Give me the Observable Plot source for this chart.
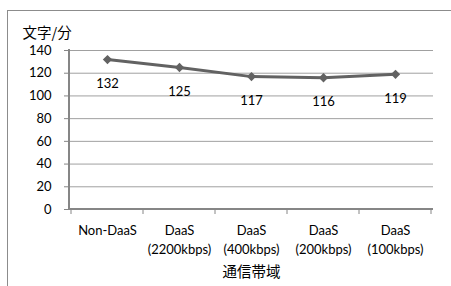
<!DOCTYPE html>
<html><head><meta charset="utf-8">
<script src="https://cdn.jsdelivr.net/npm/d3@7"></script>
<script src="https://cdn.jsdelivr.net/npm/@observablehq/plot@0.6"></script>
<style>
body{margin:0;background:#fff}
#wrap{position:relative;width:451px;height:286px;overflow:hidden;background:#fff}
#frame{position:absolute;left:7px;top:10px;width:600px;height:400px;border-top:1px solid #8c8c8c;border-left:1px solid #8c8c8c}
#chart{position:absolute;left:0;top:0}
</style>
</head><body>
<div id="wrap"><div id="frame"></div><div id="chart"></div></div>
<script>
const categories = ["Non-DaaS", "DaaS\n(2200kbps)", "DaaS\n(400kbps)", "DaaS\n(200kbps)", "DaaS\n(100kbps)"];
const values = [132, 125, 117, 116, 119];
const yTicks = [0, 20, 40, 60, 80, 100, 120, 140];
const yLabel = "文字/分";
const xLabel = "通信帯域";

const data = categories.map((c, i) => ({cat: c, v: values[i]}));

function axisLines(index, scales, values, dims) {
  const x = scales.x, y = scales.y;
  const bw = typeof x.bandwidth === "function" ? x.bandwidth() : x.bandwidth;
  const y0 = y(0);
  const g = d3.create("svg:g");
  const left = dims.marginLeft, right = dims.width - dims.marginRight;
  g.append("line").attr("x1", left).attr("x2", right).attr("y1", y0).attr("y2", y0)
    .attr("stroke", "#868686").attr("stroke-width", 2);
  g.append("line").attr("x1", left).attr("x2", left).attr("y1", dims.marginTop - 1).attr("y2", y0)
    .attr("stroke", "#868686").attr("stroke-width", 2);
  const edges = categories.map(c => x(c)).concat([x(categories[categories.length - 1]) + bw]);
  for (const e of edges) {
    g.append("line").attr("x1", e).attr("x2", e).attr("y1", y0).attr("y2", y0 + 5)
      .attr("stroke", "#868686").attr("stroke-width", 1);
  }
  return g.node();
}

const chart = Plot.plot({
  width: 451,
  height: 286,
  marginLeft: 69,
  marginRight: 18,
  marginTop: 50,
  marginBottom: 77,
  style: {fontFamily: "Lato, 'Noto Sans CJK JP', sans-serif", fontSize: "13px", color: "#000", background: "transparent"},
  x: {type: "band", domain: categories, padding: 0, label: null},
  y: {domain: [0, 140], label: null},
  marks: [
    Plot.gridY(yTicks, {stroke: "#a0a0a0", strokeOpacity: 1, strokeWidth: 1}),
    Plot.axisY(yTicks, {tickSize: 5, tickPadding: 13, stroke: "#868686", fontSize: 13, label: null}),
    Plot.axisX({tickSize: 0, tickPadding: 13, fontSize: 13, lineHeight: 1.4, label: null}),
    axisLines,
    Plot.line(data, {x: "cat", y: "v", stroke: "#626262", strokeWidth: 3}),
    Plot.dot(data, {x: "cat", y: "v", symbol: "diamond2", r: 4.2, fill: "#626262", stroke: "none"}),
    Plot.text(data, {x: "cat", y: "v", text: d => String(d.v), dy: 24, fontSize: 13, fill: "#000"}),
    Plot.text([yLabel], {frameAnchor: "top-left", text: d => d, dx: -47, dy: -17, lineAnchor: "middle", textAnchor: "start", fontSize: 14.5, fontFamily: "'Noto Sans CJK JP', sans-serif", fill: "#000"}),
    Plot.text([xLabel], {frameAnchor: "bottom", text: d => d, dy: 63, lineAnchor: "middle", fontSize: 14.5, fontFamily: "'Noto Sans CJK JP', sans-serif", fill: "#000"})
  ]
});
document.getElementById("chart").append(chart);
</script>
</body></html>
